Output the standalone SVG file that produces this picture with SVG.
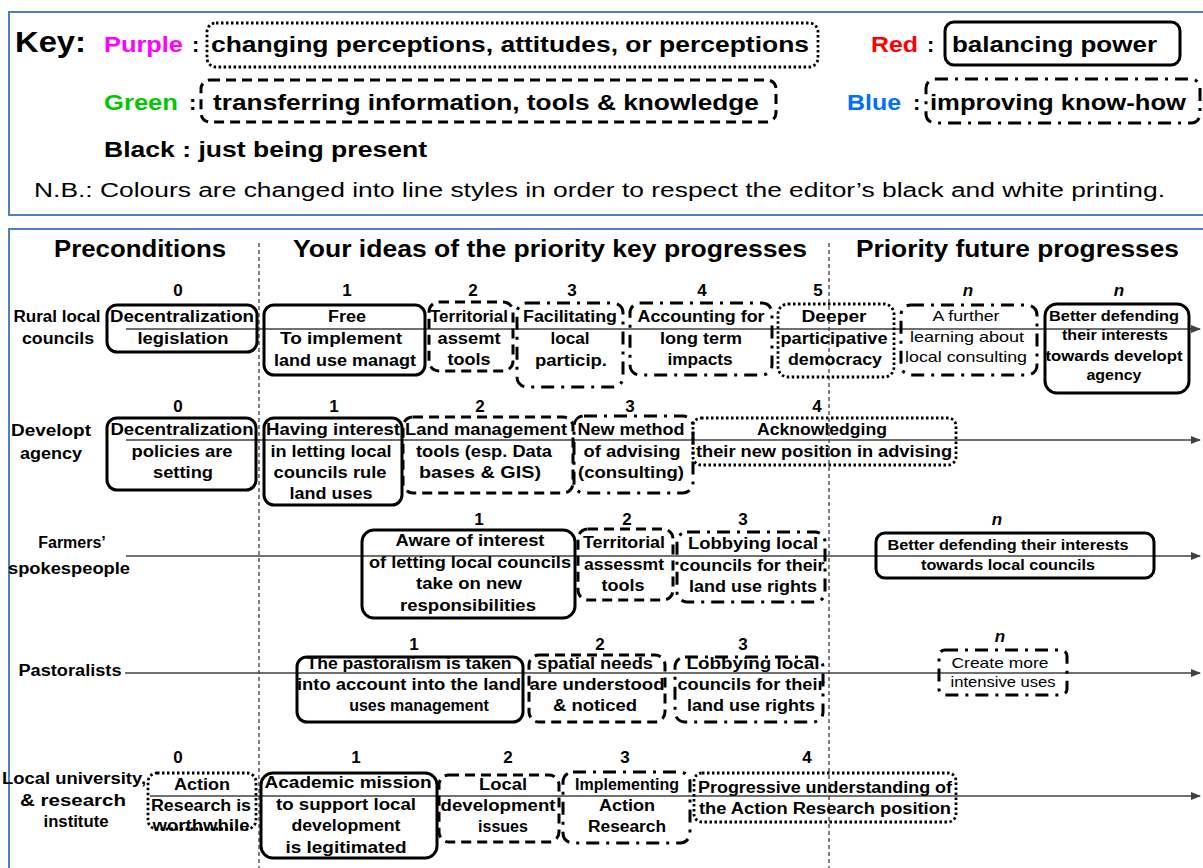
<svg xmlns="http://www.w3.org/2000/svg" width="1203" height="868" viewBox="0 0 1203 868">
<defs>
<style>
text{font-family:"Liberation Sans",Arial,sans-serif;fill:#000}
.b{font-weight:bold;font-size:16px;text-anchor:middle}
.s{font-weight:bold;font-size:15px;text-anchor:middle}
.r{font-weight:normal;font-size:15px;text-anchor:middle}
.num{font-weight:bold;font-size:17px;text-anchor:middle}
.it{font-style:italic}
.hd{font-weight:bold;font-size:23px}
.k{font-weight:bold;font-size:22px}
.bx{fill:none;stroke:#000;stroke-width:3}
.dash{stroke-dasharray:10 6}
.dot{stroke-dasharray:2.5 2.5;stroke-width:2.8}
.dd{stroke-dasharray:13 7 3 7}
.frame{fill:none;stroke:#4F81BD;stroke-width:2}
.vl{stroke:#000;stroke-width:1;stroke-dasharray:4 3}
.cn{stroke:#404040;stroke-width:1.5;fill:none}
</style>
<marker id="arr" markerWidth="10" markerHeight="8" refX="9" refY="4" orient="auto" markerUnits="userSpaceOnUse"><path d="M0,0 L10,4 L0,8 z" fill="#404040"/></marker>
</defs>
<rect x="0" y="0" width="1203" height="868" fill="#fff"/>

<g id="key">
<rect class="frame" x="9" y="12" width="1210" height="203"/>
<text x="15" y="52" font-size="30" font-weight="bold" textLength="71" lengthAdjust="spacingAndGlyphs">Key:</text>
<text class="k" x="104" y="52" style="fill:#FF00FF" textLength="79" lengthAdjust="spacingAndGlyphs">Purple</text>
<text class="k" x="192" y="52">:</text>
<rect class="bx dot" x="207" y="23" width="611" height="44" rx="9"/>
<text class="k" x="211" y="52" textLength="598" lengthAdjust="spacingAndGlyphs">changing perceptions, attitudes, or perceptions</text>
<text class="k" x="871" y="52" style="fill:#FF0000" textLength="47" lengthAdjust="spacingAndGlyphs">Red</text>
<text class="k" x="927" y="52">:</text>
<rect class="bx" x="945" y="22" width="235" height="43" rx="9"/>
<text class="k" x="952" y="52" textLength="205" lengthAdjust="spacingAndGlyphs">balancing power</text>
<text class="k" x="104" y="110" style="fill:#00C800" textLength="74" lengthAdjust="spacingAndGlyphs">Green</text>
<text class="k" x="189" y="110">:</text>
<rect class="bx dash" x="201" y="80" width="575" height="42" rx="9"/>
<text class="k" x="213" y="110" textLength="546" lengthAdjust="spacingAndGlyphs">transferring information, tools &amp; knowledge</text>
<text class="k" x="847" y="110" style="fill:#0070FF" textLength="54" lengthAdjust="spacingAndGlyphs">Blue</text>
<text class="k" x="913" y="110">:</text>
<rect class="bx dd" x="926" y="79" width="274" height="44" rx="9"/>
<text class="k" x="930" y="110" textLength="256" lengthAdjust="spacingAndGlyphs">improving know-how</text>
<text class="k" x="104" y="157" textLength="323" lengthAdjust="spacingAndGlyphs">Black : just being present</text>
<text x="34" y="197" font-size="20" textLength="1131" lengthAdjust="spacingAndGlyphs">N.B.: Colours are changed into line styles in order to respect the editor’s black and white printing.</text>
</g>

<g id="panel">
<rect class="frame" x="9" y="229" width="1210" height="660"/>
<text class="hd" x="54" y="257" textLength="172" lengthAdjust="spacingAndGlyphs">Preconditions</text>
<text class="hd" x="293" y="257" textLength="514" lengthAdjust="spacingAndGlyphs">Your ideas of the priority  key progresses</text>
<text class="hd" x="856" y="257" textLength="323" lengthAdjust="spacingAndGlyphs">Priority  future progresses</text>
<line class="vl" x1="259" y1="243" x2="259" y2="868"/>
<line class="vl" x1="829" y1="243" x2="829" y2="868"/>
</g>

<g id="connectors">
<line class="cn" x1="126" y1="329" x2="1200" y2="329" marker-end="url(#arr)"/>
<line class="cn" x1="126" y1="440" x2="1200" y2="440" marker-end="url(#arr)"/>
<line class="cn" x1="126" y1="556" x2="1200" y2="556" marker-end="url(#arr)"/>
<line class="cn" x1="125" y1="673" x2="1200" y2="673" marker-end="url(#arr)"/>
<line class="cn" x1="150" y1="796" x2="1200" y2="796" marker-end="url(#arr)"/>
</g>

<g id="labels">
<text class="b" x="57" y="322" textLength="87" lengthAdjust="spacingAndGlyphs">Rural local</text>
<text class="b" x="58" y="344" textLength="72" lengthAdjust="spacingAndGlyphs">councils</text>
<text class="b" x="51" y="436" textLength="80" lengthAdjust="spacingAndGlyphs">Developt</text>
<text class="b" x="51" y="459" textLength="62" lengthAdjust="spacingAndGlyphs">agency</text>
<text class="b" x="72" y="548">Farmers’</text>
<text class="b" x="69" y="574" textLength="122" lengthAdjust="spacingAndGlyphs">spokespeople</text>
<text class="b" x="70" y="676" textLength="103" lengthAdjust="spacingAndGlyphs">Pastoralists</text>
<text class="b" x="74" y="784" textLength="144" lengthAdjust="spacingAndGlyphs">Local university,</text>
<text class="b" x="73" y="806" textLength="106" lengthAdjust="spacingAndGlyphs">&amp; research</text>
<text class="b" x="76" y="827" textLength="65" lengthAdjust="spacingAndGlyphs">institute</text>
</g>

<g id="numbers">
<text class="num" x="178" y="296">0</text><text class="num" x="347" y="296">1</text><text class="num" x="473" y="296">2</text><text class="num" x="572" y="296">3</text><text class="num" x="702" y="296">4</text><text class="num" x="818" y="296">5</text><text class="num it" x="968" y="296">n</text><text class="num it" x="1119" y="296">n</text>
<text class="num" x="178" y="412">0</text><text class="num" x="334" y="412">1</text><text class="num" x="480" y="412">2</text><text class="num" x="630" y="412">3</text><text class="num" x="817" y="412">4</text>
<text class="num" x="479" y="525">1</text><text class="num" x="627" y="525">2</text><text class="num" x="743" y="525">3</text><text class="num it" x="997" y="525">n</text>
<text class="num" x="414" y="650">1</text><text class="num" x="600" y="650">2</text><text class="num" x="743" y="650">3</text><text class="num it" x="1000" y="642">n</text>
<text class="num" x="178" y="763">0</text><text class="num" x="356" y="763">1</text><text class="num" x="508" y="763">2</text><text class="num" x="625" y="763">3</text><text class="num" x="807" y="763">4</text>
</g>

<!-- Row 1 -->
<g id="r1b0"><rect class="bx" x="107" y="305" width="150" height="47" rx="10"/>
<text class="b" x="182" y="322" textLength="144" lengthAdjust="spacingAndGlyphs">Decentralization</text>
<text class="b" x="183" y="344" textLength="91" lengthAdjust="spacingAndGlyphs">legislation</text></g>
<g id="r1b1"><rect class="bx" x="264" y="305" width="161" height="70" rx="10"/>
<text class="b" x="347" y="322" textLength="38" lengthAdjust="spacingAndGlyphs">Free</text>
<text class="b" x="341" y="344" textLength="122" lengthAdjust="spacingAndGlyphs">To implement</text>
<text class="b" x="345" y="366" textLength="142" lengthAdjust="spacingAndGlyphs">land use managt</text></g>
<g id="r1b2"><rect class="bx dash" x="429" y="302" width="84" height="69" rx="10"/>
<text class="b" x="469" y="322" textLength="78" lengthAdjust="spacingAndGlyphs">Territorial</text>
<text class="b" x="469" y="344" textLength="63" lengthAdjust="spacingAndGlyphs">assemt</text>
<text class="b" x="469" y="365" textLength="43" lengthAdjust="spacingAndGlyphs">tools</text></g>
<g id="r1b3"><rect class="bx dd" x="517" y="303" width="106" height="84" rx="10"/>
<text class="b" x="570" y="322" textLength="94" lengthAdjust="spacingAndGlyphs">Facilitating</text>
<text class="b" x="570" y="344" textLength="39" lengthAdjust="spacingAndGlyphs">local</text>
<text class="b" x="571" y="366" textLength="72" lengthAdjust="spacingAndGlyphs">particip.</text></g>
<g id="r1b4"><rect class="bx dd" x="630" y="303" width="142" height="72" rx="10"/>
<text class="b" x="701" y="322" textLength="127" lengthAdjust="spacingAndGlyphs">Accounting  for</text>
<text class="b" x="701" y="344" textLength="82" lengthAdjust="spacingAndGlyphs">long term</text>
<text class="b" x="700" y="365" textLength="65" lengthAdjust="spacingAndGlyphs">impacts</text></g>
<g id="r1b5"><rect class="bx dot" x="778" y="304" width="116" height="73" rx="10"/>
<text class="b" x="834" y="322" textLength="65" lengthAdjust="spacingAndGlyphs">Deeper</text>
<text class="b" x="834" y="344" textLength="107" lengthAdjust="spacingAndGlyphs">participative</text>
<text class="b" x="835" y="365" textLength="94" lengthAdjust="spacingAndGlyphs">democracy</text></g>
<g id="r1bn1"><rect class="bx dd" x="901" y="305" width="136" height="70" rx="10"/>
<text class="r" x="966" y="321" textLength="67" lengthAdjust="spacingAndGlyphs">A further</text>
<text class="r" x="967" y="342" textLength="114" lengthAdjust="spacingAndGlyphs">learning about</text>
<text class="r" x="966" y="362" textLength="122" lengthAdjust="spacingAndGlyphs">local consulting</text></g>
<g id="r1bn2"><rect class="bx" x="1045" y="304" width="144" height="89" rx="12"/>
<text class="s" x="1114" y="321" textLength="130" lengthAdjust="spacingAndGlyphs">Better defending</text>
<text class="s" x="1115" y="340" textLength="106" lengthAdjust="spacingAndGlyphs">their interests</text>
<text class="s" x="1114" y="361" textLength="137" lengthAdjust="spacingAndGlyphs">towards developt</text>
<text class="s" x="1114" y="380" textLength="55" lengthAdjust="spacingAndGlyphs">agency</text></g>

<!-- Row 2 -->
<g id="r2b0"><rect class="bx" x="107" y="418" width="149" height="72" rx="10"/>
<text class="b" x="182" y="435" textLength="143" lengthAdjust="spacingAndGlyphs">Decentralization</text>
<text class="b" x="182" y="457" textLength="101" lengthAdjust="spacingAndGlyphs">policies are</text>
<text class="b" x="183" y="478" textLength="60" lengthAdjust="spacingAndGlyphs">setting</text></g>
<g id="r2b1"><rect class="bx" x="264" y="418" width="138" height="87" rx="10"/>
<text class="b" x="333" y="435" textLength="134" lengthAdjust="spacingAndGlyphs">Having interest</text>
<text class="b" x="331" y="457" textLength="121" lengthAdjust="spacingAndGlyphs">in letting local</text>
<text class="b" x="330" y="478" textLength="113" lengthAdjust="spacingAndGlyphs">councils rule</text>
<text class="b" x="331" y="499" textLength="83" lengthAdjust="spacingAndGlyphs">land uses</text></g>
<g id="r2b2"><rect class="bx dash" x="403" y="417" width="170" height="76" rx="10"/>
<text class="b" x="486" y="435" textLength="162" lengthAdjust="spacingAndGlyphs">Land management</text>
<text class="b" x="484" y="457" textLength="136" lengthAdjust="spacingAndGlyphs">tools (esp. Data</text>
<text class="b" x="480" y="478" textLength="122" lengthAdjust="spacingAndGlyphs">bases &amp; GIS)</text></g>
<g id="r2b3"><rect class="bx dd" x="574" y="416" width="119" height="77" rx="10"/>
<text class="b" x="631" y="435" textLength="107" lengthAdjust="spacingAndGlyphs">New method</text>
<text class="b" x="632" y="457" textLength="97" lengthAdjust="spacingAndGlyphs">of advising</text>
<text class="b" x="631" y="478" textLength="106" lengthAdjust="spacingAndGlyphs">(consulting)</text></g>
<g id="r2b4"><rect class="bx dot" x="693" y="418" width="263" height="47" rx="8"/>
<text class="b" x="822" y="435" textLength="130" lengthAdjust="spacingAndGlyphs">Acknowledging</text>
<text class="b" x="824" y="457" textLength="256" lengthAdjust="spacingAndGlyphs">their new position in advising</text></g>

<!-- Row 3 -->
<g id="r3b1"><rect class="bx" x="362" y="530" width="213" height="88" rx="12"/>
<text class="b" x="470" y="546" textLength="149" lengthAdjust="spacingAndGlyphs">Aware of interest</text>
<text class="b" x="470" y="568" textLength="202" lengthAdjust="spacingAndGlyphs">of letting local councils</text>
<text class="b" x="469" y="589" textLength="106" lengthAdjust="spacingAndGlyphs">take on new</text>
<text class="b" x="468" y="611" textLength="136" lengthAdjust="spacingAndGlyphs">responsibilities</text></g>
<g id="r3b2"><rect class="bx dash" x="578" y="529" width="95" height="71" rx="10"/>
<text class="b" x="624" y="548" textLength="82" lengthAdjust="spacingAndGlyphs">Territorial</text>
<text class="b" x="624" y="570" textLength="80" lengthAdjust="spacingAndGlyphs">assessmt</text>
<text class="b" x="623" y="591" textLength="43" lengthAdjust="spacingAndGlyphs">tools</text></g>
<g id="r3b3"><rect class="bx dd" x="677" y="532" width="148" height="70" rx="10"/>
<text class="b" x="753" y="549" textLength="130" lengthAdjust="spacingAndGlyphs">Lobbying  local</text>
<text class="b" x="752" y="571" textLength="145" lengthAdjust="spacingAndGlyphs">councils for their</text>
<text class="b" x="753" y="592" textLength="128" lengthAdjust="spacingAndGlyphs">land use rights</text></g>
<g id="r3bn"><rect class="bx" x="876" y="533" width="278" height="45" rx="9"/>
<text class="s" x="1008" y="550" font-size="14" textLength="241" lengthAdjust="spacingAndGlyphs">Better defending their interests</text>
<text class="s" x="1008" y="570" font-size="14" textLength="174" lengthAdjust="spacingAndGlyphs">towards local councils</text></g>

<!-- Row 4 -->
<g id="r4b1"><rect class="bx" x="297" y="657" width="226" height="65" rx="10"/>
<text class="b" x="409" y="669" textLength="205" lengthAdjust="spacingAndGlyphs">The pastoralism is taken</text>
<text class="b" x="409" y="690" textLength="224" lengthAdjust="spacingAndGlyphs">into account into the land</text>
<text class="b" x="419" y="711">uses management</text></g>
<g id="r4b2"><rect class="bx dash" x="529" y="655" width="136" height="67" rx="10"/>
<text class="b" x="595" y="669" textLength="116" lengthAdjust="spacingAndGlyphs">spatial needs</text>
<text class="b" x="597" y="690" textLength="135" lengthAdjust="spacingAndGlyphs">are understood</text>
<text class="b" x="595" y="711" textLength="84" lengthAdjust="spacingAndGlyphs">&amp; noticed</text></g>
<g id="r4b3"><rect class="bx dd" x="675" y="657" width="148" height="65" rx="10"/>
<text class="b" x="753" y="669" textLength="133" lengthAdjust="spacingAndGlyphs">Lobbying  local</text>
<text class="b" x="751" y="690" textLength="147" lengthAdjust="spacingAndGlyphs">councils for their</text>
<text class="b" x="751" y="711" textLength="128" lengthAdjust="spacingAndGlyphs">land use rights</text></g>
<g id="r4bn"><rect class="bx dd" x="939" y="650" width="128" height="45" rx="6"/>
<text class="r" x="1000" y="668" textLength="97" lengthAdjust="spacingAndGlyphs">Create more</text>
<text class="r" x="1003" y="687" textLength="105" lengthAdjust="spacingAndGlyphs">intensive uses</text></g>

<!-- Row 5 -->
<g id="r5b0"><rect class="bx dot" x="148" y="773" width="108" height="56" rx="9"/>
<text class="b" x="202" y="790" textLength="56" lengthAdjust="spacingAndGlyphs">Action</text>
<text class="b" x="201" y="811" textLength="100" lengthAdjust="spacingAndGlyphs">Research is</text>
<text class="b" x="201" y="831" textLength="97" lengthAdjust="spacingAndGlyphs">worthwhile</text></g>
<g id="r5b1"><rect class="bx" x="261" y="773" width="176" height="85" rx="12"/>
<text class="b" x="348" y="788" textLength="167" lengthAdjust="spacingAndGlyphs">Academic  mission</text>
<text class="b" x="346" y="810" textLength="140" lengthAdjust="spacingAndGlyphs">to support local</text>
<text class="b" x="346" y="831" textLength="109" lengthAdjust="spacingAndGlyphs">development</text>
<text class="b" x="346" y="853" textLength="121" lengthAdjust="spacingAndGlyphs">is legitimated</text></g>
<g id="r5b2"><rect class="bx dash" x="439" y="775" width="120" height="67" rx="10"/>
<text class="b" x="503" y="790" textLength="48" lengthAdjust="spacingAndGlyphs">Local</text>
<text class="b" x="498" y="811" textLength="115" lengthAdjust="spacingAndGlyphs">development</text>
<text class="b" x="503" y="832">issues</text></g>
<g id="r5b3"><rect class="bx dd" x="563" y="772" width="127" height="71" rx="10"/>
<text class="b" x="627" y="790">Implementing</text>
<text class="b" x="627" y="811" textLength="56" lengthAdjust="spacingAndGlyphs">Action</text>
<text class="b" x="627" y="832" textLength="78" lengthAdjust="spacingAndGlyphs">Research</text></g>
<g id="r5b4"><rect class="bx dot" x="694" y="773" width="262" height="49" rx="8"/>
<text class="b" x="825" y="793" textLength="254" lengthAdjust="spacingAndGlyphs">Progressive understanding of</text>
<text class="b" x="825" y="814" textLength="252" lengthAdjust="spacingAndGlyphs">the Action  Research position</text></g>
</svg>
